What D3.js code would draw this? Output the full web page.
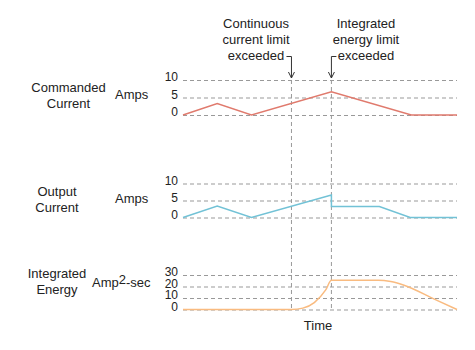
<!DOCTYPE html>
<html lang="en">
<head>
<meta charset="UTF-8">
<title>Current limiting timing diagram</title>
<script src="https://d3js.org/d3.v7.min.js"></script>
<style>
    body { margin: 0; background: #fff; }
    svg { font-family: "Liberation Sans", Arial, sans-serif; }
    .grid line { stroke: #999; stroke-dasharray: 4,3; }
    .tick text { font-size: 12px; fill: #222; }
    .lbl { font-size: 13px; fill: #222; }
</style>
</head>
<body>
<div id="chart"></div>
<script>
    // Data (time in arbitrary units 0-24)
    const cmdTime = [0, 3, 6, 13, 20, 24];
    const cmdAmps = [0, 3.3, 0, 6.6, 0, 0];

    const outTime = [0, 3, 6, 13, 13, 17.2, 19.9, 24];
    const outAmps = [0, 3.4, 0, 6.6, 3.2, 3.2, 0, 0];

    const energyTime = [0, 9.5, 10.5, 11.5, 12.5, 13, 17.1, 18.2, 19.3, 22.2, 24];
    const energyVals = [0, 0, 1.2, 6, 17, 25.5, 25.5, 24.3, 21.3, 8.1, 0];

    const eventTimes = [9.5, 13];
    const ampTicks = [0, 5, 10];
    const energyTicks = [0, 10, 20, 30];

    const svg = d3.select("#chart").append("svg")
        .attr("width", 475)
        .attr("height", 350);

    const x = d3.scaleLinear().domain([0, 24]).range([183, 457]);

    const panels = [
        {time: cmdTime, vals: cmdAmps, ticks: ampTicks, domain: [0, 10], range: [115, 80], color: "#e07a6d"},
        {time: outTime, vals: outAmps, ticks: ampTicks, domain: [0, 10], range: [217.5, 183.5], color: "#72c2d6"},
        {time: energyTime, vals: energyVals, ticks: energyTicks, domain: [0, 30], range: [309.5, 275], color: "#f9bb80"}
    ];

    // vertical event markers
    eventTimes.forEach(t => {
        svg.append("line")
            .attr("x1", x(t)).attr("x2", x(t))
            .attr("y1", 80).attr("y2", 310)
            .attr("stroke", "#999")
            .attr("stroke-dasharray", "4,3");
    });

    panels.forEach(p => {
        const y = d3.scaleLinear().domain(p.domain).range(p.range);

        svg.append("g")
            .attr("class", "grid")
            .attr("transform", "translate(183,0)")
            .call(d3.axisLeft(y).tickValues(p.ticks).tickSize(-274).tickPadding(5).tickFormat(d3.format("d")))
            .call(g => g.select(".domain").remove())
            .call(g => g.selectAll(".tick text").attr("dy", "0.05em"));

        const line = d3.line()
            .x((d, i) => x(p.time[i]))
            .y(d => y(d));
        if (p === panels[2]) line.curve(d3.curveMonotoneX);

        svg.append("path")
            .datum(p.vals)
            .attr("fill", "none")
            .attr("stroke", p.color)
            .attr("stroke-width", 1.5)
            .attr("d", line);
    });

    // left labels
    function label(lines, cx, y0) {
        const t = svg.append("text").attr("class", "lbl").attr("text-anchor", "middle");
        lines.forEach((s, i) => t.append("tspan").attr("x", cx).attr("y", y0 + i * 16).text(s));
    }
    label(["Commanded", "Current"], 68.5, 91.5);
    label(["Output", "Current"], 57, 195.5);
    label(["Integrated", "Energy"], 57, 278);

    svg.append("text").attr("class", "lbl").attr("x", 115).attr("y", 98.5).text("Amps");
    svg.append("text").attr("class", "lbl").attr("x", 115).attr("y", 202.5).text("Amps");
    const ue = svg.append("text").attr("class", "lbl").attr("x", 92).attr("y", 287);
    ue.append("tspan").text("Amp");
    ue.append("tspan").attr("dy", -3).text("2");
    ue.append("tspan").attr("dy", 3).text("-sec");

    svg.append("text").attr("class", "lbl").attr("x", 318).attr("y", 329.5)
        .attr("text-anchor", "middle").text("Time");

    // annotations
    label(["Continuous", "current limit", "exceeded"], 256, 28);
    label(["Integrated", "energy limit", "exceeded"], 366, 28);

    const ax1 = x(eventTimes[0]), ax2 = x(eventTimes[1]);
    const arrows = [
        `M${ax1 - 5},56.5H${ax1}V78 M${ax1 - 3},72L${ax1},78L${ax1 + 3},72`,
        `M${ax2 + 5},56.5H${ax2}V78 M${ax2 - 3},72L${ax2},78L${ax2 + 3},72`
    ];
    arrows.forEach(d => svg.append("path")
        .attr("d", d).attr("fill", "none").attr("stroke", "#333").attr("stroke-width", 1));
</script>
</body>
</html>
